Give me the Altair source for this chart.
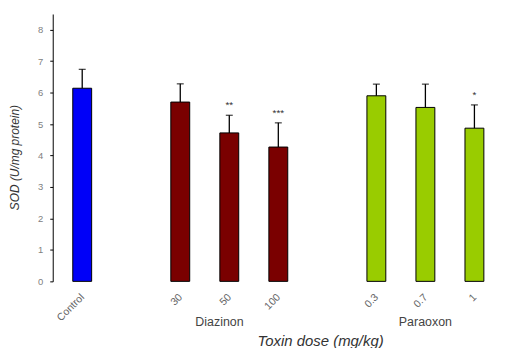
import altair as alt
import pandas as pd

# ---- data ----
labels = ["Control", "30", "50", "100", "0.3", "0.7", "1"]
slots = [0, 2, 3, 4, 6, 7, 8]
groups = ["Control", "Diazinon", "Diazinon", "Diazinon", "Paraoxon", "Paraoxon", "Paraoxon"]
means = [6.14, 5.70, 4.72, 4.27, 5.90, 5.53, 4.87]
upper = [6.74, 6.28, 5.28, 5.04, 6.27, 6.27, 5.61]
stars = ["", "", "**", "***", "", "", "*"]
y_ticks = [0, 1, 2, 3, 4, 5, 6, 7, 8]

group_names = ["Diazinon", "Paraoxon"]
group_pos = [2.8, 7.0]
group_y = [-1.3, -1.3]

colors = {"Control": "#0000f8", "Diazinon": "#7a0000", "Paraoxon": "#99cc00"}

df = pd.DataFrame({"slot": slots, "label": labels, "group": groups,
                   "mean": means, "upper": upper, "star": stars})
gdf = pd.DataFrame({"name": group_names, "pos": group_pos, "y": group_y})

FONT = "Liberation Sans"

label_expr = "".join(f"datum.value == {s} ? '{l}' : " for s, l in zip(slots, labels)) + "''"

xscale = alt.Scale(domain=[-0.5, 8.4], nice=False, zero=False)
yscale = alt.Scale(domain=[0, 8.5], nice=False)

x_axis = alt.Axis(values=slots, labelExpr=label_expr, labelAngle=-45,
                  labelAlign="right", labelBaseline="middle", labelPadding=14,
                  labelFontSize=10.5, labelColor="#666666", labelFont=FONT,
                  labelOverlap=False, labelBound=False,
                  domain=False, ticks=False, grid=False,
                  title="Toxin dose (mg/kg)", titleFont=FONT, titleFontSize=15,
                  titleFontStyle="italic", titleFontWeight="normal", titleColor="#333333",
                  titleX=269, titleY=60, titleAlign="center", titleBaseline="middle")

y_axis = alt.Axis(values=y_ticks, tickSize=3, tickColor="#000000",
                  domainColor="#000000", labelPadding=7, labelFontSize=9.5,
                  labelColor="#808080", labelFont=FONT, grid=False,
                  labelOverlap=False, labelBound=False,
                  title="SOD (U/mg protein)", titleFont=FONT, titleFontSize=12,
                  titleFontStyle="italic", titleFontWeight="normal", titleColor="#333333",
                  titleX=-38, titleY=144, titleAlign="center", titleBaseline="middle")

X = lambda f: alt.X(f, type="quantitative", scale=xscale, axis=x_axis)
Y = lambda f: alt.Y(f, type="quantitative", scale=yscale, axis=y_axis)

base = alt.Chart(df)

bars = base.mark_bar(size=19, stroke="#000000", strokeWidth=1).encode(
    x=X("slot"), y=Y("mean"),
    color=alt.Color("group:N", scale=alt.Scale(domain=list(colors.keys()),
                                                range=list(colors.values())), legend=None),
)

err = base.mark_rule(color="#000000", strokeWidth=1.3).encode(
    x=X("slot"), y=Y("mean"), y2="upper:Q")

caps = base.mark_tick(color="#000000", orient="horizontal", size=7, thickness=1.3).encode(
    x=X("slot"), y=Y("upper"))

star_text = base.mark_text(fontSize=10, font=FONT, baseline="bottom",
                           dy=-5).encode(x=X("slot"), y=Y("upper"), text="star:N",
                                         color=alt.value("#333333"))

group_text = alt.Chart(gdf).mark_text(fontSize=12.5, font=FONT,
                                      baseline="middle", clip=False).encode(
    x=X("pos"), y=Y("y"), text="name:N", color=alt.value("#444444"))

chart = alt.layer(bars, err, caps, star_text, group_text).properties(
    width=449, height=269,
    background="white",
    autosize=alt.AutoSizeParams(type="none"),
    padding={"left": 45, "top": 5, "right": 0, "bottom": 66},
).configure_view(stroke=None)

chart.save("out.html", embed_options={"renderer": "svg", "actions": False})
